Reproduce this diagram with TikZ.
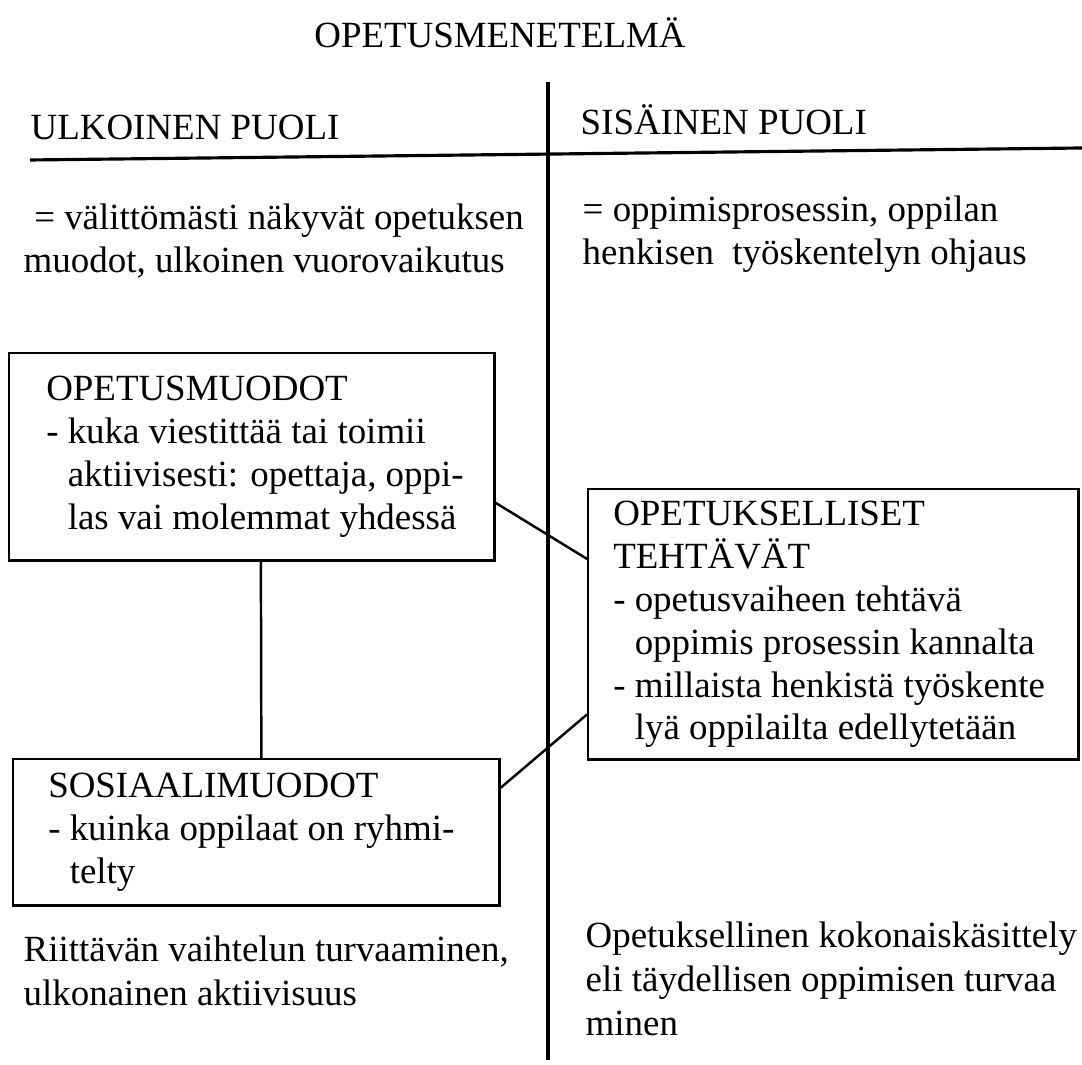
\documentclass[tikz,border=0pt]{standalone}
\usepackage{fontspec}
\setmainfont{Liberation Serif}
\usetikzlibrary{calc}

\tikzstyle{title}=[anchor=base, inner sep=0pt, font=\fontsize{10.5}{12.5}\selectfont]
\tikzstyle{plain}=[anchor=base west, inner sep=0pt, align=left, font=\fontsize{10.5}{12.5}\selectfont]
\tikzstyle{box}[0.32cm]=[draw, line width=0.7pt, anchor=north west, align=flush left, inner xsep=0.05cm,
	font=\fontsize{10.5}{12.2}\selectfont, execute at begin node={\leftskip=#1}]
\tikzstyle{link}=[line width=0.7pt]
\tikzstyle{rule}=[line width=0.9pt]

\begin{document}
\begin{tikzpicture}[x=0.01cm, y=-0.01cm]
			\useasboundingbox (0,0) rectangle (1082,1065);
			%Title and the two sides
			\node[title] (menetelma) at (500,48) {OPETUSMENETELMÄ};
			\node[plain] (ulko) at (30,140) {ULKOINEN PUOLI};
			\node[plain] (sisa) at (580,135) {SISÄINEN PUOLI};
			\draw[rule] (548,82) -- (548,1060);
			\draw[rule] (30,160) -- (1082,148);
			%What each side means (base is the last line)
			\node[plain] (ulkodef) at (23,273) {\hspace{3pt}= välittömästi näkyvät opetuksen\\muodot, ulkoinen vuorovaikutus};
			\node[plain] (sisadef) at (582,265) {= oppimisprosessin, oppilan\\henkisen\ \ työskentelyn ohjaus};
			%The boxes
			\node[box, text width=4.75cm, minimum height=2.07cm] (muodot) at (8,352)
				{OPETUSMUODOT\\- kuka viestittää tai toimii\\\hphantom{- }aktiivisesti: opettaja, oppi-\\\hphantom{- }las vai molemmat yhdessä};
			\node[box=0.2cm, text width=4.80cm, minimum height=2.62cm] (tehtavat) at (587,488)
				{OPETUKSELLISET\\TEHTÄVÄT\\- opetusvaiheen tehtävä\\\hphantom{- }oppimis prosessin kannalta\\- millaista henkistä työskente\\\hphantom{- }lyä oppilailta edellytetään};
			\node[box=0.3cm, text width=4.76cm, minimum height=1.46cm] (sosiaali) at (12,758)
				{SOSIAALIMUODOT\\- kuinka oppilaat on ryhmi-\\\hphantom{- }telty};
			%Connectors
			\draw[link] ($(muodot.south)+(9,0)$) -- ($(sosiaali.north)+(5,0)$);
			\draw[link] ($(muodot.north east)!0.72!(muodot.south east)$) -- ($(tehtavat.north west)!0.26!(tehtavat.south west)$);
			\draw[link] ($(sosiaali.north east)!0.2!(sosiaali.south east)$) -- ($(tehtavat.north west)!0.83!(tehtavat.south west)$);
			%Goals at the bottom (base is the last line)
			\node[plain] (vaihtelu) at (23,1005) {Riittävän vaihtelun turvaaminen,\\ulkonainen aktiivisuus};
			\node[plain] (kokonais) at (585,1035) {Opetuksellinen kokonaiskäsittely\\eli täydellisen oppimisen turvaa\\minen};
\end{tikzpicture}
\end{document}
